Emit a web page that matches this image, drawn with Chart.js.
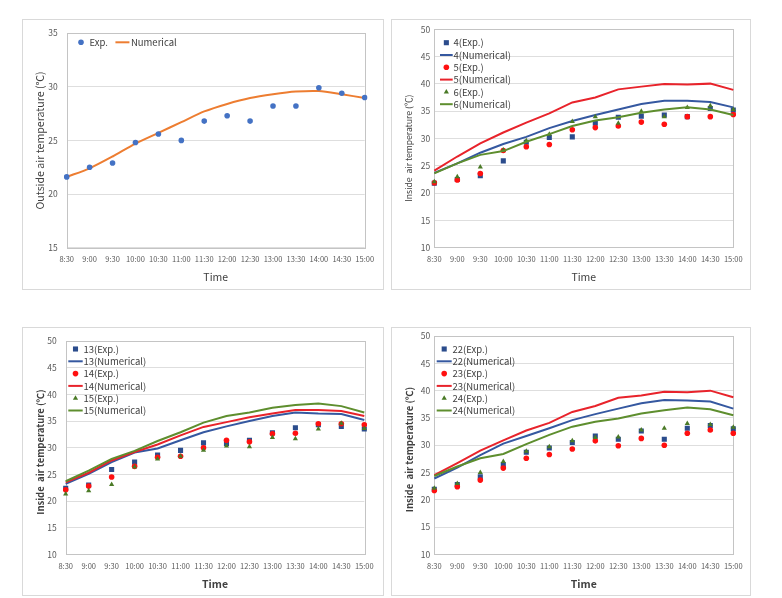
<!DOCTYPE html>
<html><head><meta charset="utf-8">
<script src="https://cdn.jsdelivr.net/npm/chart.js@4"></script>
<style>
body{margin:0;background:#fff;width:782px;height:598px;position:relative;overflow:hidden}
.frame{position:absolute;border:1px solid #d9d9d9;box-sizing:border-box}
canvas{position:absolute;display:block}
</style></head><body>
<div class="frame" style="left:22px;top:19px;width:362px;height:271px"></div>
<div class="frame" style="left:391px;top:19px;width:360px;height:271px"></div>
<div class="frame" style="left:22px;top:327px;width:362px;height:269px"></div>
<div class="frame" style="left:391px;top:327px;width:360px;height:269px"></div>
<canvas id="c1" width="361" height="270" style="left:22px;top:19px"></canvas>
<canvas id="c2" width="359" height="270" style="left:391px;top:19px"></canvas>
<canvas id="c3" width="361" height="268" style="left:22px;top:327px"></canvas>
<canvas id="c4" width="359" height="268" style="left:391px;top:327px"></canvas>
<script>
// ---------- data ----------
const times = ['8:30','9:00','9:30','10:00','10:30','11:00','11:30','12:00','12:30','13:00','13:30','14:00','14:30','15:00'];

const outsideExp = [21.6,22.5,22.9,24.8,25.6,25.0,26.8,27.3,26.8,28.2,28.2,29.9,29.4,29.0];
const outsideNum = [21.6,22.4,23.5,24.7,25.7,26.7,27.7,28.4,28.95,29.3,29.55,29.6,29.3,28.95];

const exp4 = [21.8,22.5,23.2,25.9,29.3,30.2,30.3,32.8,33.9,34.1,34.3,34.0,35.5,35.2];
const num4 = [23.7,25.45,27.4,29.0,30.3,31.9,33.2,34.3,35.3,36.3,36.9,36.9,36.7,35.7];
const exp5 = [21.9,22.4,23.6,27.8,28.5,28.9,31.6,32.0,32.3,33.0,32.6,34.0,34.0,34.4];
const num5 = [24.1,26.7,29.1,31.1,32.9,34.6,36.6,37.5,39.0,39.5,40.0,39.9,40.05,38.9];
const exp6 = [22.1,23.0,24.8,27.9,29.6,30.8,33.1,34.0,32.8,35.0,34.0,35.7,36.0,35.3];
const num6 = [23.6,25.45,27.0,27.7,29.4,30.8,32.3,33.3,33.9,34.7,35.3,35.7,35.3,34.3];

const exp13 = [22.4,23.0,25.9,27.3,28.6,29.5,30.9,30.8,31.4,32.8,33.75,34.3,34.0,33.5];
const num13 = [23.2,25.1,27.3,29.1,29.85,31.4,32.9,34.0,35.0,35.95,36.6,36.4,36.3,35.2];
const exp14 = [22.1,22.8,24.5,26.5,28.2,28.4,30.0,31.4,31.1,32.6,32.7,34.5,34.5,34.3];
const num14 = [23.5,25.3,27.6,29.2,30.6,32.3,33.9,34.8,35.7,36.4,37.05,37.05,36.9,35.95];
const exp15 = [21.3,21.9,23.1,26.4,27.9,28.4,29.5,30.3,30.2,31.9,31.7,33.5,34.6,33.6];
const num15 = [23.7,25.7,27.9,29.4,31.25,32.9,34.7,35.95,36.6,37.5,38.0,38.3,37.8,36.6];

const exp22 = [21.9,22.8,24.2,26.4,28.7,29.5,30.5,31.7,31.1,32.6,31.1,33.1,33.6,33.0];
const num22 = [23.9,25.9,28.2,30.3,31.7,33.1,34.6,35.7,36.7,37.7,38.3,38.2,38.0,36.7];
const exp23 = [21.7,22.4,23.6,25.8,27.6,28.3,29.3,30.8,29.9,31.25,30.0,32.2,32.8,32.2];
const num23 = [24.5,26.7,29.0,30.9,32.7,34.1,36.1,37.2,38.7,39.1,39.8,39.7,40.0,38.8];
const exp24 = [22.1,23.0,25.0,27.0,28.9,29.7,30.8,31.4,31.5,32.8,33.1,34.0,33.8,33.3];
const num24 = [24.35,26.1,27.6,28.4,30.2,31.9,33.4,34.3,34.9,35.8,36.4,36.9,36.6,35.5];

const outsideTicks = [15,20,25,30,35];
const insideTicks = [10,15,20,25,30,35,40,45,50];

// ---------- styles ----------
const C = {
  expBlue:'#2B4C8C', lineBlue:'#3558A0',
  expRed:'#FF1010', lineRed:'#E8232B',
  expGreen:'#4A7A26', lineGreen:'#5E8E2E',
  dot:'#4472C4', orange:'#ED7D31'
};
const NARROW = '"Liberation Sans Narrow","Noto Sans CJK KR",sans-serif';
const TEXT_FONT = '"Noto Sans CJK KR","Noto Sans",sans-serif';

function expDS(label, data, color, style, r, order){
  return {label, data, showLine:false, pointStyle:style, pointRadius:r, pointHoverRadius:r,
    pointBackgroundColor:color, pointBorderColor:color, backgroundColor:color, borderColor:color,
    pointBorderWidth:0, order};
}
function numDS(label, data, color, w, tension, order){
  return {label, data, borderColor:color, backgroundColor:color, borderWidth:w, pointRadius:0,
    pointHoverRadius:0, tension, fill:false, order};
}

function drawMarker(ctx, style, x, y, r, color){
  ctx.fillStyle = color;
  ctx.beginPath();
  if (style === 'rect'){ const s = Math.SQRT1_2*r; ctx.rect(x-s, y-s, 2*s, 2*s); }
  else if (style === 'triangle'){
    const hw = r*Math.sqrt(3)/2;
    ctx.moveTo(x, y - r); ctx.lineTo(x + hw, y + r/2); ctx.lineTo(x - hw, y + r/2); ctx.closePath();
  } else { ctx.arc(x, y, r, 0, Math.PI*2); }
  ctx.fill();
}

const miniLegend = {
  id:'miniLegend',
  afterDraw(chart){
    const o = chart.options.plugins.miniLegend;
    if (!o) return;
    const ctx = chart.ctx;
    ctx.save();
    ctx.font = o.font;
    ctx.textBaseline = 'middle';
    let x = o.x, y = o.y;
    chart.data.datasets.forEach(ds => {
      const cx = x + o.lineLen/2;
      if (ds.showLine === false){
        drawMarker(ctx, ds.pointStyle, cx, y, ds.pointRadius, ds.backgroundColor);
      } else {
        ctx.strokeStyle = ds.borderColor; ctx.lineWidth = ds.borderWidth;
        ctx.beginPath(); ctx.moveTo(x, y); ctx.lineTo(x + o.lineLen, y); ctx.stroke();
      }
      ctx.fillStyle = o.color;
      ctx.fillText(ds.label, x + o.lineLen + o.textGap, y);
      if (o.horizontal) x += o.lineLen + o.textGap + ctx.measureText(ds.label).width + o.itemGap;
      else y += o.rowH;
    });
    ctx.restore();
  }
};

const plotBox = {
  id:'plotBox',
  beforeDatasetsDraw(chart){
    const a = chart.chartArea, ctx = chart.ctx;
    ctx.save();
    ctx.strokeStyle = '#c4c4c4'; ctx.lineWidth = 1;
    ctx.strokeRect(Math.round(a.left)+0.5, Math.round(a.top)+0.5, Math.round(a.right-a.left), Math.round(a.bottom-a.top));
    ctx.restore();
  }
};

function makeChart(id, cfg){
  const cv = document.getElementById(id);
  const W = cv.width, H = cv.height, ca = cfg.area;
  const yTitleLH = cfg.yTitleSize*1.2;
  new Chart(cv, {
    type:'line',
    data:{labels:times, datasets:cfg.datasets},
    options:{
      responsive:false, animation:false, devicePixelRatio:1,
      layout:{padding:{left:0, top:ca.t, right:W-ca.r, bottom:0}},
      plugins:{legend:{display:false}, tooltip:{enabled:false}, miniLegend:cfg.legend},
      scales:{
        x:{
          offset:false,
          grid:{display:false, drawTicks:false},
          border:{display:false},
          ticks:{autoSkip:false, maxRotation:0, minRotation:0, padding:cfg.xTickPad, color:'#595959',
            font:{family:NARROW, size:7.5}},
          title:{display:true, text:'Time', color:'#404040',
            font:{family:TEXT_FONT, size:cfg.xTitleSize, weight:cfg.xTitleWeight},
            padding:{top:0, bottom:(H - cfg.xTitleY) - cfg.xTitleSize*1.2/2}},
          afterFit(s){ s.height = H - ca.b; }
        },
        y:{
          min:cfg.yTicks[0], max:cfg.yTicks[cfg.yTicks.length-1],
          afterBuildTicks(s){ s.ticks = cfg.yTicks.map(v => ({value:v})); },
          grid:{color:'#dedede', drawTicks:false},
          border:{display:false},
          ticks:{padding:cfg.yTickPad, color:'#595959', font:{family:NARROW, size:8.5}},
          title:{display:true, text:cfg.yTitle, color:'#404040',
            font:{family:TEXT_FONT, size:cfg.yTitleSize, weight:cfg.yTitleWeight},
            padding:{top:cfg.yTitleX - yTitleLH/2, bottom:0}},
          afterFit(s){ s.width = ca.l; }
        }
      }
    },
    plugins:[plotBox, miniLegend]
  });
}

const legendFont = '9.5px ' + NARROW;

makeChart('c1', {
  area:{l:44.7, r:342.7, t:10.3, b:228.7},
  yTicks: outsideTicks, yTitle:'Outside air temperature (℃)', yTitleSize:10.6, yTitleWeight:'normal', yTitleX:18,
  xTitleY:257.7, xTitleSize:10.5, xTitleWeight:'normal', xTickPad:7, yTickPad:9,
  legend:{x:52, y:23.3, lineLen:14, textGap:1.5, itemGap:7.5, horizontal:true, font:legendFont, color:'#404040'},
  datasets:[
    expDS('Exp.', outsideExp, C.dot, 'circle', 2.8, 1),
    numDS('Numerical', outsideNum, C.orange, 2, 0.25, 2)
  ]
});

makeChart('c2', {
  area:{l:43.3, r:342.3, t:10.3, b:228.7},
  yTicks: insideTicks, yTitle:'Inside  air temperature (℃)          ', yTitleSize:8.6, yTitleWeight:'normal', yTitleX:18,
  xTitleY:257.7, xTitleSize:10.5, xTitleWeight:'normal', xTickPad:7, yTickPad:4,
  legend:{x:49, y:23.7, rowH:12.3, lineLen:12.7, textGap:0.8, font:legendFont, color:'#404040'},
  datasets:[
    expDS('4(Exp.)', exp4, C.expBlue, 'rect', 3.6, 6),
    numDS('4(Numerical)', num4, C.lineBlue, 2, 0, 5),
    expDS('5(Exp.)', exp5, C.expRed, 'circle', 2.8, 4),
    numDS('5(Numerical)', num5, C.lineRed, 2, 0, 3),
    expDS('6(Exp.)', exp6, C.expGreen, 'triangle', 3, 2),
    numDS('6(Numerical)', num6, C.lineGreen, 2, 0, 1)
  ]
});

makeChart('c3', {
  area:{l:43.7, r:342.3, t:9, b:227.3},
  yTicks: insideTicks, yTitle:'Inside  air temperature (℃)    ', yTitleSize:9.5, yTitleWeight:'bold', yTitleX:18,
  xTitleY:257, xTitleSize:10.5, xTitleWeight:'bold', xTickPad:7, yTickPad:9,
  legend:{x:46.3, y:22, rowH:12.3, lineLen:14.4, textGap:0.8, font:legendFont, color:'#404040'},
  datasets:[
    expDS('13(Exp.)', exp13, C.expBlue, 'rect', 3.6, 6),
    numDS('13(Numerical)', num13, C.lineBlue, 2, 0, 5),
    expDS('14(Exp.)', exp14, C.expRed, 'circle', 2.8, 4),
    numDS('14(Numerical)', num14, C.lineRed, 2, 0, 3),
    expDS('15(Exp.)', exp15, C.expGreen, 'triangle', 3, 2),
    numDS('15(Numerical)', num15, C.lineGreen, 2, 0, 1)
  ]
});

makeChart('c4', {
  area:{l:43.3, r:342.3, t:9, b:227.3},
  yTicks: insideTicks, yTitle:'Inside  air temperature (℃)    ', yTitleSize:9.5, yTitleWeight:'bold', yTitleX:18,
  xTitleY:257, xTitleSize:10.5, xTitleWeight:'bold', xTickPad:7, yTickPad:4,
  legend:{x:45.7, y:22, rowH:12.3, lineLen:15, textGap:0.8, font:legendFont, color:'#404040'},
  datasets:[
    expDS('22(Exp.)', exp22, C.expBlue, 'rect', 3.6, 6),
    numDS('22(Numerical)', num22, C.lineBlue, 2, 0, 5),
    expDS('23(Exp.)', exp23, C.expRed, 'circle', 2.8, 4),
    numDS('23(Numerical)', num23, C.lineRed, 2, 0, 3),
    expDS('24(Exp.)', exp24, C.expGreen, 'triangle', 3, 2),
    numDS('24(Numerical)', num24, C.lineGreen, 2, 0, 1)
  ]
});
</script>
</body></html>
